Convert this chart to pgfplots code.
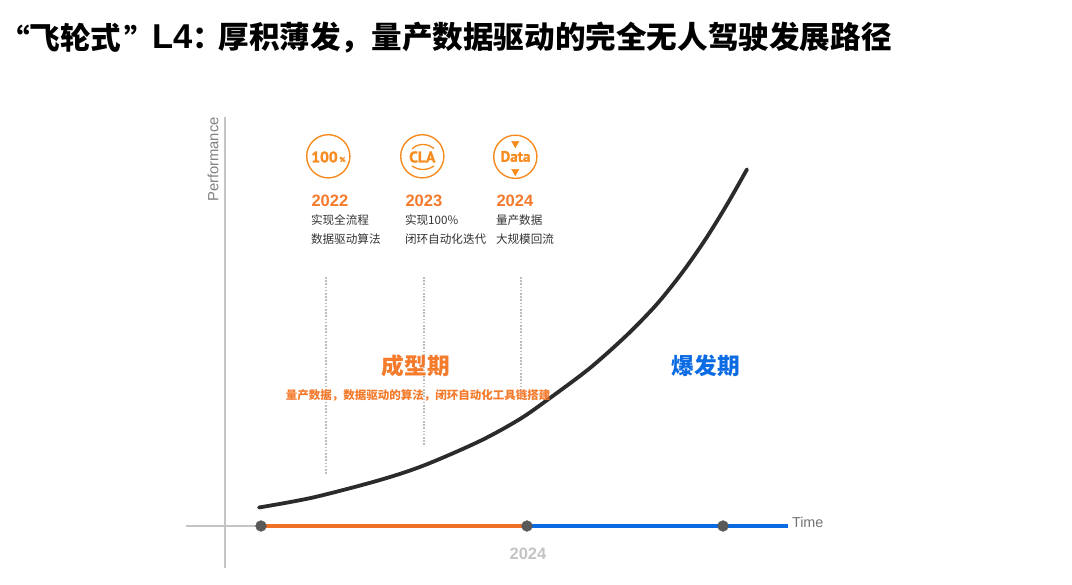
\documentclass[border=0pt]{standalone}
\usepackage{fontspec}
\usepackage{pgfplots}
\pgfplotsset{compat=1.18}
\setmainfont{Noto Sans CJK SC}
\newfontfamily\lat{Liberation Sans}
\newfontfamily\din[FakeBold=1.3]{PT Sans}
\definecolor{org}{HTML}{F47A2C}
\definecolor{orgline}{HTML}{EE7126}
\definecolor{icon}{HTML}{F68B1F}
\definecolor{blu}{HTML}{0B6BE3}
\definecolor{axg}{HTML}{C4C4C4}
\definecolor{dotg}{HTML}{BDBDBD}
\definecolor{dark}{HTML}{2B2B2B}
\definecolor{dotc}{HTML}{595959}
\newcommand{\fs}[1]{\fontsize{#1}{#1}\selectfont}
\tikzset{t/.style={inner sep=0pt,outer sep=0pt}}
\begin{document}
\begin{tikzpicture}
\begin{axis}[name=a,scale only axis,width=1072pt,height=585pt,xmin=0,xmax=1072,ymin=0,ymax=585,y dir=reverse,hide axis,clip=false]
% axes
\addplot[axg,line width=1.3pt,no marks] coordinates {(225,117) (225,568)};
\addplot[axg,line width=1.3pt,no marks] coordinates {(186,526) (262,526)};
% dotted guides
\addplot[dotg,line width=1.3pt,dash pattern=on 1.6pt off 1.6pt,no marks] coordinates {(326,277) (326,475)};
\addplot[dotg,line width=1.3pt,dash pattern=on 1.6pt off 1.6pt,no marks] coordinates {(424,277) (424,446)};
\addplot[dotg,line width=1.3pt,dash pattern=on 1.6pt off 1.6pt,no marks] coordinates {(521,277) (521,395)};
% timeline
\addplot[orgline,line width=4.2pt,no marks] coordinates {(261,526) (527,526)};
\addplot[blu,line width=4.2pt,no marks] coordinates {(527,526) (788,526)};
\addplot[only marks,mark=*,mark size=5.4pt,mark options={draw=dotc,fill=dotc}] coordinates {(261,526) (527,526) (723,526)};
% curve
\addplot[dark,line width=3.8pt,smooth,no marks,line cap=round] coordinates {(259,507.5) (313,497.5) (380,480) (425,465) (480,441) (520,419) (550,398) (590,368) (627,335) (657,304) (683,271.5) (706,238.5) (727,204.5) (747,169.3)};
% icons
\addplot[only marks,mark=o,mark size=21.6pt,mark options={draw=icon,line width=1.4pt}] coordinates {(328.3,156.3) (422.3,156.3) (515.3,156.8)};
\addplot[icon,line width=1.3pt,smooth,no marks] coordinates {(412,149) (417,145.5) (423,144.5) (429,145.5) (434,148.5)};
\addplot[icon,line width=1.3pt,smooth,no marks] coordinates {(412,166) (417,168.5) (423,169.5) (429,168.5) (434,166)};
\addplot[only marks,mark=triangle*,mark size=4.2pt,mark options={draw=icon,fill=icon,rotate=180}] coordinates {(515.3,143.5) (515.3,171.5)};
\node[t,anchor=center,text=icon] at (axis cs:324.5,157) {\din\bfseries\fs{15.5}100};
\node[t,anchor=center,text=icon] at (axis cs:342.5,159.5) {\din\bfseries\fs{7}\%};
\node[t,anchor=center,text=icon] at (axis cs:422.3,157) {\din\bfseries\fs{15.5}CLA};
\node[t,anchor=center,text=icon] at (axis cs:515.5,156.5) {\din\bfseries\fs{15}Data};
% title pieces
\node[t,anchor=west,text=black] at (axis cs:-1,38) {\bfseries\fs{30.6}“};
\node[t,anchor=west,text=black] at (axis cs:29.5,38) {\bfseries\fs{30.6}飞轮式};
\node[t,anchor=west,text=black] at (axis cs:124,38) {\bfseries\fs{30.6}”};
\node[t,anchor=west,text=black] at (axis cs:152,37) {\lat\bfseries\fs{34.5}L4};
\node[t,anchor=west,text=black] at (axis cs:192,38) {\bfseries\fs{30.6}：};
\node[t,anchor=west,text=black] at (axis cs:218.5,38) {\bfseries\fs{30.6}厚积薄发，量产数据驱动的完全无人驾驶发展路径};
% labels
\node[t,anchor=center,rotate=90,text=black!50] at (axis cs:213,159.5) {\lat\fs{14.8}Performance};
\node[t,anchor=west,text=black!55] at (axis cs:792,522.5) {\lat\fs{14.4}Time};
\node[t,anchor=center,text=axg] at (axis cs:528,554) {\lat\bfseries\fs{16.5}2024};
\node[t,anchor=west,text=org] at (axis cs:311.5,200.5) {\lat\bfseries\fs{16.5}2022};
\node[t,anchor=west,text=org] at (axis cs:405.5,200.5) {\lat\bfseries\fs{16.5}2023};
\node[t,anchor=west,text=org] at (axis cs:496.5,200.5) {\lat\bfseries\fs{16.5}2024};
\node[t,anchor=west,text=black!80] at (axis cs:311,220) {\fs{11.6}实现全流程};
\node[t,anchor=west,text=black!80] at (axis cs:311,239) {\fs{11.6}数据驱动算法};
\node[t,anchor=west,text=black!80] at (axis cs:405,220) {\fs{11.6}实现100\%};
\node[t,anchor=west,text=black!80] at (axis cs:405,239) {\fs{11.6}闭环自动化迭代};
\node[t,anchor=west,text=black!80] at (axis cs:496,220) {\fs{11.6}量产数据};
\node[t,anchor=west,text=black!80] at (axis cs:496,239) {\fs{11.6}大规模回流};
\node[t,anchor=center,text=org] at (axis cs:416,365.5) {\bfseries\fs{22.7}成型期};
\node[t,anchor=center,text=blu] at (axis cs:706,365.5) {\bfseries\fs{22.7}爆发期};
\node[t,anchor=center,text=org] at (axis cs:418,395.5) {\bfseries\fs{11.5}量产数据，数据驱动的算法，闭环自动化工具链搭建};
\end{axis}
\pgfresetboundingbox
\path[use as bounding box] (a.south west) rectangle (a.north east);
\end{tikzpicture}
\end{document}
